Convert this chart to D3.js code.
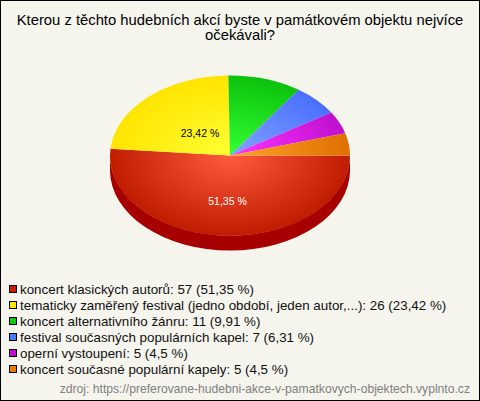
<!DOCTYPE html>
<html><head><meta charset="utf-8">
<script src="https://cdn.jsdelivr.net/npm/d3@7"></script>
<style>html,body{margin:0;padding:0;background:#fff}svg{display:block}text{font-family:"Liberation Sans",Arial,sans-serif}</style>
</head><body><svg id="c" width="480" height="401"></svg>
<script>
const titleLines=["Kterou z těchto hudebních akcí byste v památkovém objektu nejvíce","očekávali?"];
const categories=["koncert klasických autorů","tematicky zaměřený festival (jedno období, jeden autor,...)","koncert alternativního žánru","festival současných populárních kapel","operní vystoupení","koncert současné populární kapely"];
const values=[57,26,11,7,5,5];
const percents=["51,35","23,42","9,91","6,31","4,5","4,5"];
const centerColors=["#ff5c3e","#ffff33","#33ff33","#80a4ff","#ff33ff","#ffa428"];
const edgeColors=["#bf1c00","#ffe400","#0cc20c","#4a6fff","#bf10cf","#df7000"];
const sideColors=["#a60000","#c0a000","#0a900a","#3050c0","#900a90","#a85000"];
const swatchColors=["#c81e00","#ffe800","#10c810","#4a78ff","#c010d0","#e87800"];
const sourceText="zdroj: https://preferovane-hudebni-akce-v-pamatkovych-objektech.vyplnto.cz";

const W=480,H=401,cx=230,cy=155.5,rx=120,ry=80,depth=15;
const svg=d3.select("#c");
svg.append("rect").attr("x",.5).attr("y",.5).attr("width",W-1).attr("height",H-1).attr("fill","#f5f5ee").attr("stroke","#000");
svg.append("g").selectAll("text").data(titleLines).join("text")
 .attr("x",W/2).attr("y",(d,i)=>24.5+i*15.5).attr("text-anchor","middle").attr("font-size",14.8).attr("fill","#000").text(d=>d);

const defs=svg.append("defs");
centerColors.forEach((c,i)=>{
 const g=defs.append("radialGradient").attr("id","g"+i).attr("gradientUnits","userSpaceOnUse").attr("cx",0).attr("cy",0).attr("r",1);
 g.append("stop").attr("offset",0).attr("stop-color",c);
 g.append("stop").attr("offset",1).attr("stop-color",edgeColors[i]);
});
const pie=d3.pie().sort(null).startAngle(Math.PI/2).endAngle(Math.PI/2+2*Math.PI);
const arcs=pie(values);
const arc=d3.arc().innerRadius(0).outerRadius(1);
const plot=svg.append("g").attr("transform",`translate(${cx},${cy}) scale(${rx},${ry})`);
const d=depth/ry;
arcs.forEach((a,i)=>{
 const s=Math.max(a.startAngle,Math.PI/2),e=Math.min(a.endAngle,3*Math.PI/2);
 if(e<=s)return;
 const p=d3.path();
 const x=t=>Math.sin(t),y=t=>-Math.cos(t);
 p.moveTo(x(s),y(s));
 p.arc(0,0,1,s-Math.PI/2,e-Math.PI/2,false);
 p.lineTo(x(e),y(e)+d);
 p.arc(0,d,1,e-Math.PI/2,s-Math.PI/2,true);
 p.closePath();
 plot.append("path").attr("d",p.toString()).attr("fill",sideColors[i]);
});
plot.selectAll("path.s").data(arcs).join("path").attr("class","s").attr("d",arc).attr("fill",(a,i)=>`url(#g${i})`);
const labelPos=[[227.5,205,"#fff"],[200,136.5,"#000"]];
labelPos.forEach((l,i)=>svg.append("text").attr("x",l[0]).attr("y",l[1]).attr("text-anchor","middle").attr("font-size",10.5).attr("fill",l[2]).text(percents[i]+" %"));

const leg=svg.append("g").selectAll("g").data(categories).join("g").attr("transform",(c,i)=>`translate(0,${288+i*16})`);
leg.append("rect").attr("x",9.5).attr("y",-2.5).attr("width",7).attr("height",7).attr("fill",(c,i)=>swatchColors[i]).attr("stroke","#000");
leg.append("text").attr("x",20).attr("y",5.5).attr("font-size",13.37).attr("fill","#111").text((c,i)=>`${c}: ${values[i]} (${percents[i]} %)`);
svg.append("text").attr("x",470).attr("y",393).attr("text-anchor","end").attr("font-size",12.15).attr("fill","#808080").text(sourceText);
</script></body></html>
